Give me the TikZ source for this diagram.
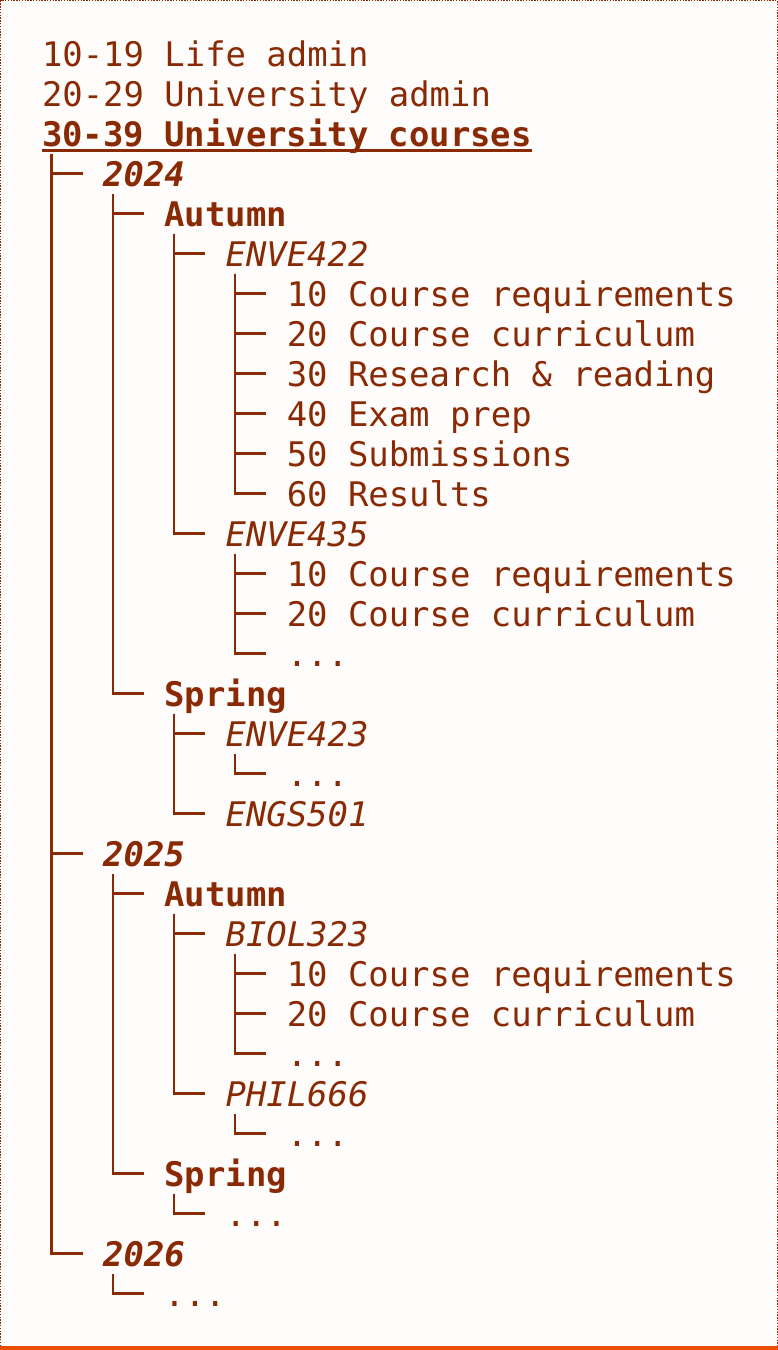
\documentclass[tikz,border=0pt]{standalone}
\usepackage{fontspec}
\setmainfont{DejaVu Sans Mono}
\definecolor{ink}{RGB}{138,42,4}
\definecolor{bg}{RGB}{255,253,251}
\definecolor{rule}{RGB}{232,78,4}
\begin{document}
\begin{tikzpicture}[x=1pt,y=-1pt,
  lbl/.style={inner sep=0pt, outer sep=0pt, anchor=west, text=ink, text height=25pt, text depth=0pt,
    font=\fontsize{33.9}{40}\selectfont},
  yr/.style={lbl, font=\fontsize{33.9}{40}\selectfont\bfseries\itshape},
  sem/.style={lbl, font=\fontsize{33.9}{40}\selectfont\bfseries},
  crs/.style={lbl, font=\fontsize{33.9}{40}\selectfont\itshape},
  tree/.style={draw=ink, line width=2.2pt}]
\useasboundingbox (0,0) rectangle (778,1350);
\fill[bg] (0,0) rectangle (778,1350);
\draw[ink, line width=1.4pt, dash pattern=on 1.4pt off 1.4pt] (0.7,1346) -- (0.7,0.7) -- (777.3,0.7) -- (777.3,1346);
\draw[rule, line width=4pt] (0,1348) -- (778,1348);

% rows: centre y = 53.5 + 40 i ; columns x = 42 + 20.4 c
\node[lbl] (n0) at (42,53.5) {10-19 Life admin};
\node[lbl] (n1) at (42,93.5) {20-29 University admin};
\node[sem] (n2) at (42,133.5) {30-39 University courses};
\draw[ink, line width=2.6pt] ([yshift=-4.5pt]n2.south west) -- ([yshift=-4.5pt]n2.south east);

\node[yr] (y24) at (103.2,173.5) {2024};
\node[sem] (a24) at (164.4,213.5) {Autumn};
\node[crs] (e422) at (225.6,253.5) {ENVE422};
\node[lbl] (e422a) at (286.8,293.5) {10 Course requirements};
\node[lbl] (e422b) at (286.8,333.5) {20 Course curriculum};
\node[lbl] (e422c) at (286.8,373.5) {30 Research \& reading};
\node[lbl] (e422d) at (286.8,413.5) {40 Exam prep};
\node[lbl] (e422e) at (286.8,453.5) {50 Submissions};
\node[lbl] (e422f) at (286.8,493.5) {60 Results};
\node[crs] (e435) at (225.6,533.5) {ENVE435};
\node[lbl] (e435a) at (286.8,573.5) {10 Course requirements};
\node[lbl] (e435b) at (286.8,613.5) {20 Course curriculum};
\node[lbl] (e435c) at (286.8,653.5) {...};
\node[sem] (s24) at (164.4,693.5) {Spring};
\node[crs] (e423) at (225.6,733.5) {ENVE423};
\node[lbl] (e423a) at (286.8,773.5) {...};
\node[crs] (g501) at (225.6,813.5) {ENGS501};

\node[yr] (y25) at (103.2,853.5) {2025};
\node[sem] (a25) at (164.4,893.5) {Autumn};
\node[crs] (b323) at (225.6,933.5) {BIOL323};
\node[lbl] (b323a) at (286.8,973.5) {10 Course requirements};
\node[lbl] (b323b) at (286.8,1013.5) {20 Course curriculum};
\node[lbl] (b323c) at (286.8,1053.5) {...};
\node[crs] (p666) at (225.6,1093.5) {PHIL666};
\node[lbl] (p666a) at (286.8,1133.5) {...};
\node[sem] (s25) at (164.4,1173.5) {Spring};
\node[lbl] (s25a) at (225.6,1213.5) {...};

\node[yr] (y26) at (103.2,1253.5) {2026};
\node[lbl] (y26a) at (164.4,1293.5) {...};

\foreach \p/\c in {n2/y24,n2/y25,n2/y26,
  y24/a24,y24/s24,
  a24/e422,a24/e435,
  e422/e422a,e422/e422b,e422/e422c,e422/e422d,e422/e422e,e422/e422f,
  e435/e435a,e435/e435b,e435/e435c,
  s24/e423,s24/g501,
  e423/e423a,
  y25/a25,y25/s25,
  a25/b323,a25/p666,
  b323/b323a,b323/b323b,b323/b323c,
  p666/p666a,
  s25/s25a,
  y26/y26a}
  \draw[tree] ([shift={(9.5pt,-20pt)}]\p.west) |- ([xshift=-20.4pt]\c.west);
\end{tikzpicture}
\end{document}
